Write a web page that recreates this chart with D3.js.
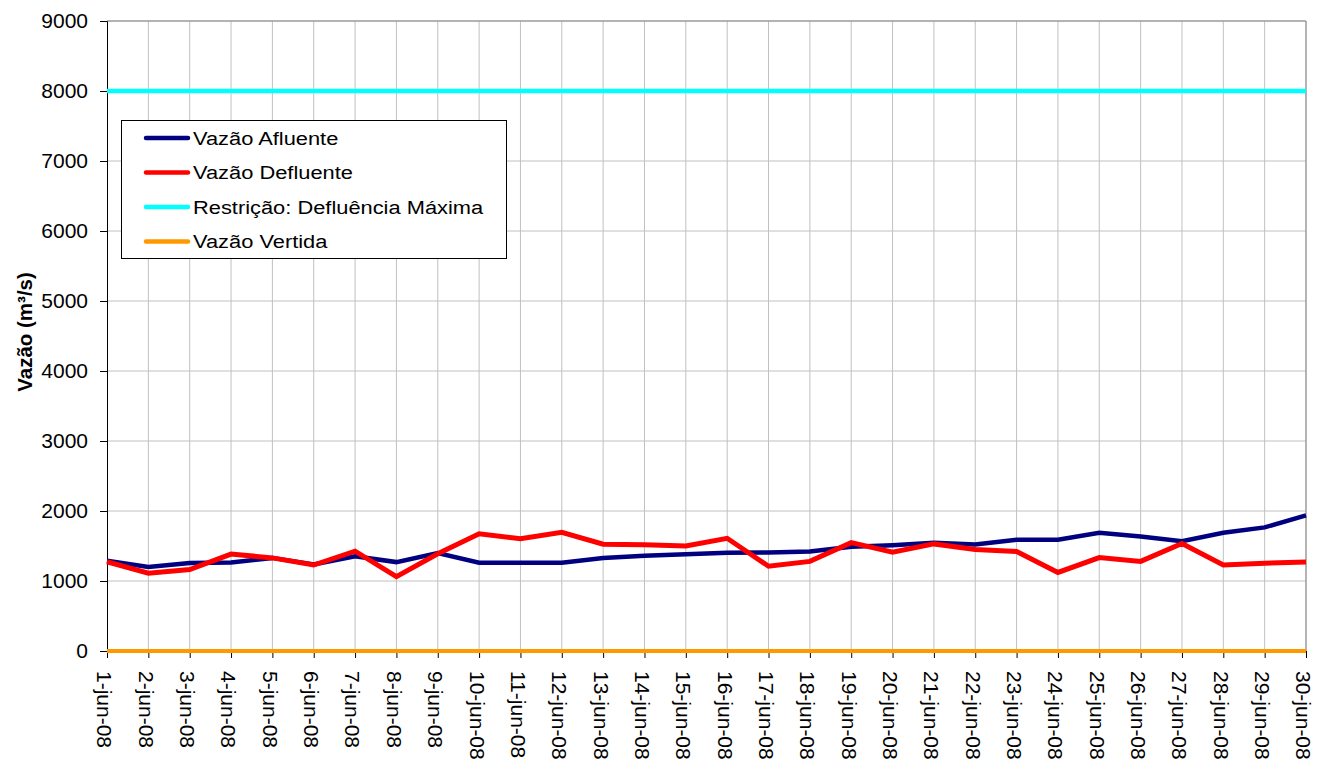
<!DOCTYPE html>
<html><head><meta charset="utf-8">
<script src="https://cdn.jsdelivr.net/npm/d3@7"></script>
<style>body{margin:0;background:#fff}svg{display:block;font-family:"Liberation Sans",Arial,sans-serif}</style>
</head><body><svg id="c" width="1317" height="760"></svg>
<script>
const categories = ["1-jun-08","2-jun-08","3-jun-08","4-jun-08","5-jun-08","6-jun-08","7-jun-08","8-jun-08","9-jun-08","10-jun-08","11-jun-08","12-jun-08","13-jun-08","14-jun-08","15-jun-08","16-jun-08","17-jun-08","18-jun-08","19-jun-08","20-jun-08","21-jun-08","22-jun-08","23-jun-08","24-jun-08","25-jun-08","26-jun-08","27-jun-08","28-jun-08","29-jun-08","30-jun-08"];
const afluente = [1290,1200,1258,1265,1330,1235,1354,1270,1400,1262,1260,1260,1330,1359,1383,1405,1407,1420,1488,1512,1548,1522,1589,1589,1689,1636,1569,1689,1766,1938];
const defluente = [1275,1112,1163,1385,1330,1228,1426,1062,1388,1675,1605,1695,1526,1518,1500,1610,1211,1280,1548,1410,1530,1450,1421,1122,1335,1280,1536,1228,1254,1270];
const restricao = [8000,8000,8000,8000,8000,8000,8000,8000,8000,8000,8000,8000,8000,8000,8000,8000,8000,8000,8000,8000,8000,8000,8000,8000,8000,8000,8000,8000,8000,8000];
const vertida = [0,0,0,0,0,0,0,0,0,0,0,0,0,0,0,0,0,0,0,0,0,0,0,0,0,0,0,0,0,0];
const yTicks = [0,1000,2000,3000,4000,5000,6000,7000,8000,9000];
const seriesNames = ["Vazão Afluente","Vazão Defluente","Restrição: Defluência Máxima","Vazão Vertida"];
const seriesColors = ["#000080","#ff0000","#00ffff","#ff9900"];
const seriesData = [afluente, defluente, restricao, vertida];

const svg = d3.select("#c");
const L=107, R=1306, T=21, B=651;
const x = d3.scalePoint().domain(categories).range([L,R]);
const y = d3.scaleLinear().domain([0,9000]).range([B,T]);
const FONT = "Liberation Sans, Arial, sans-serif";

// grid
const g = svg.append("g");
g.selectAll("line.h").data(yTicks.slice(1)).enter().append("line")
  .attr("x1",L).attr("x2",R).attr("y1",d=>y(d)).attr("y2",d=>y(d))
  .attr("stroke","#c0c0c0").attr("stroke-width",1);
g.selectAll("line.v").data(categories.slice(1)).enter().append("line")
  .attr("x1",d=>x(d)).attr("x2",d=>x(d)).attr("y1",T).attr("y2",B)
  .attr("stroke","#c0c0c0").attr("stroke-width",1);
g.append("line").attr("x1",R).attr("x2",R).attr("y1",T).attr("y2",B).attr("stroke","#888").attr("stroke-width",1);
g.append("line").attr("x1",L).attr("x2",R).attr("y1",T).attr("y2",T).attr("stroke","#888").attr("stroke-width",1);

// axes
const yAxis = d3.axisLeft(y).tickValues(yTicks).tickFormat(d3.format("d")).tickSize(7).tickPadding(12);
const ya = svg.append("g").attr("transform",`translate(${L},0)`).call(yAxis);
ya.select(".domain").attr("stroke","#000");
ya.selectAll(".tick line").attr("stroke","#000");
ya.selectAll("text").attr("font-size",21).attr("fill","#000").attr("font-family",FONT);

const xAxis = d3.axisBottom(x).tickSize(7);
const xa = svg.append("g").attr("transform",`translate(0,${B})`).call(xAxis);
xa.select(".domain").attr("stroke","#000");
xa.selectAll(".tick line").attr("stroke","#000");
xa.selectAll("text").attr("font-size",21).attr("fill","#000").attr("font-family",FONT)
  .attr("transform","translate(0,20) rotate(90)").attr("text-anchor","start").attr("x",0).attr("y",0).attr("dy","0.48em").attr("dx",0);

// lines
const line = d3.line().x((d,i)=>x(categories[i])).y(d=>y(d));
const order = [3,2,0,1];
const widths = [4.5,5,4.5,4];
order.forEach(k=>{
  svg.append("path").datum(seriesData[k]).attr("d",line).attr("fill","none")
    .attr("stroke",seriesColors[k]).attr("stroke-width",widths[k]).attr("stroke-linejoin","miter");
});

// y label
svg.append("text").attr("transform","translate(32,332) rotate(-90)").attr("text-anchor","middle")
  .attr("font-size",20.5).attr("font-weight","bold").text("Vazão (m³/s)");

// legend
const lg = svg.append("g");
lg.append("rect").attr("x",121.5).attr("y",120.5).attr("width",385).attr("height",138)
  .attr("fill","#fff").attr("stroke","#000").attr("stroke-width",1);
seriesNames.forEach((n,i)=>{
  const yy = 138 + i*34.5;
  lg.append("line").attr("x1",146).attr("x2",188).attr("y1",yy).attr("y2",yy)
    .attr("stroke",seriesColors[i]).attr("stroke-width",4.5).attr("stroke-linecap","round");
  lg.append("text").attr("transform",`translate(193,${yy}) scale(1.15,1)`).attr("dy","0.35em").attr("font-size",19).text(n);
});
</script></body></html>
